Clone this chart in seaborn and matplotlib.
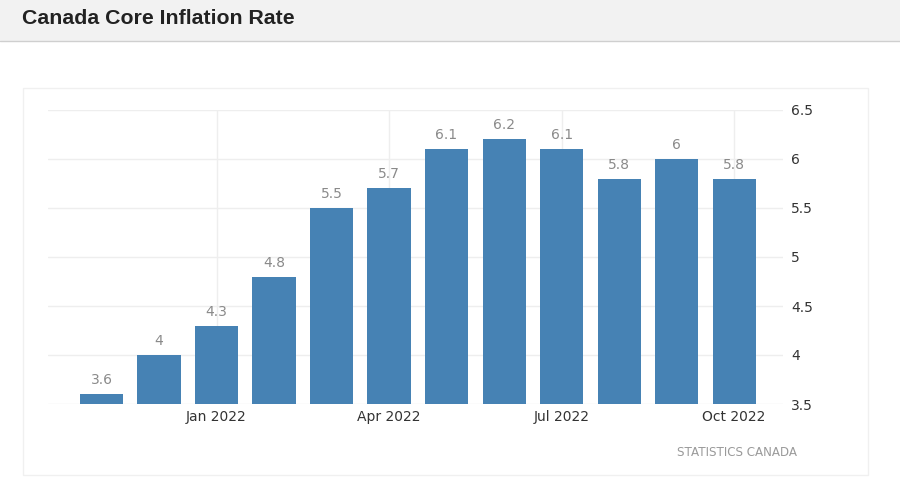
import matplotlib
matplotlib.use("Agg")
import matplotlib.pyplot as plt
import seaborn as sns
import pandas as pd
from matplotlib.patches import Rectangle
from matplotlib.lines import Line2D

months = ["Nov 2021", "Dec 2021", "Jan 2022", "Feb 2022", "Mar 2022", "Apr 2022",
          "May 2022", "Jun 2022", "Jul 2022", "Aug 2022", "Sep 2022", "Oct 2022"]
core_rate = [3.6, 4.0, 4.3, 4.8, 5.5, 5.7, 6.1, 6.2, 6.1, 5.8, 6.0, 5.8]
tick_months = ["Jan 2022", "Apr 2022", "Jul 2022", "Oct 2022"]
y_ticks = [3.5, 4, 4.5, 5, 5.5, 6, 6.5]

df = pd.DataFrame({"month": months, "rate": core_rate})

sns.set_style("white")
plt.rcParams["font.family"] = ["DejaVu Sans"]

fig = plt.figure(figsize=(9, 4.86), dpi=100)
fig.patch.set_facecolor("white")

# header bar
fig.patches.append(Rectangle((0, 1 - 41 / 486), 1, 41 / 486, transform=fig.transFigure,
                             facecolor="#f2f2f2", edgecolor="none", zorder=0))
fig.lines.append(Line2D([0, 1], [1 - 41 / 486] * 2, transform=fig.transFigure,
                        color="#cfcfcf", lw=1))
fig.text(22 / 900, 1 - 18 / 486, "Canada Core Inflation Rate", family="Liberation Sans",
         fontsize=15.3, fontweight="bold", color="#222222", va="center", ha="left")

# chart panel border
fig.patches.append(Rectangle((23 / 900, 1 - 475 / 486), 845 / 900, 387 / 486,
                             transform=fig.transFigure, facecolor="none",
                             edgecolor="#f0f0f0", lw=1, zorder=0))

ax = fig.add_axes([48 / 900, 1 - 404 / 486, 735 / 900, 294 / 486])
sns.barplot(data=df, x="month", y="rate", color="#4682b4", saturation=1,
            width=0.75, linewidth=0, ax=ax, zorder=3)

ax.set_ylim(3.5, 6.5)
ax.set_xlim(-0.93, 11.85)
ax.set_yticks(y_ticks)
ax.set_yticklabels([f"{v:g}" for v in y_ticks])
ax.yaxis.tick_right()
ax.set_xticks([months.index(m) for m in tick_months])
ax.set_xticklabels(tick_months)
ax.tick_params(axis="both", length=0, labelsize=10, labelcolor="#333333")
ax.tick_params(axis="y", pad=6)
ax.tick_params(axis="x", pad=4)
ax.set_xlabel("")
ax.set_ylabel("")
for s in ax.spines.values():
    s.set_visible(False)
ax.grid(True, axis="both", color="#eeeeee", lw=1, zorder=0)
ax.set_axisbelow(True)

for i, v in enumerate(core_rate):
    ax.annotate(f"{v:g}", (i, v), xytext=(0, 5), textcoords="offset points",
                ha="center", va="bottom", fontsize=10, color="#8a8a8a")

fig.text(797 / 900, 1 - 452 / 486, "STATISTICS CANADA", fontsize=8.6, color="#9a9a9a",
         ha="right", va="center")

fig.savefig("out.png", dpi=100)
